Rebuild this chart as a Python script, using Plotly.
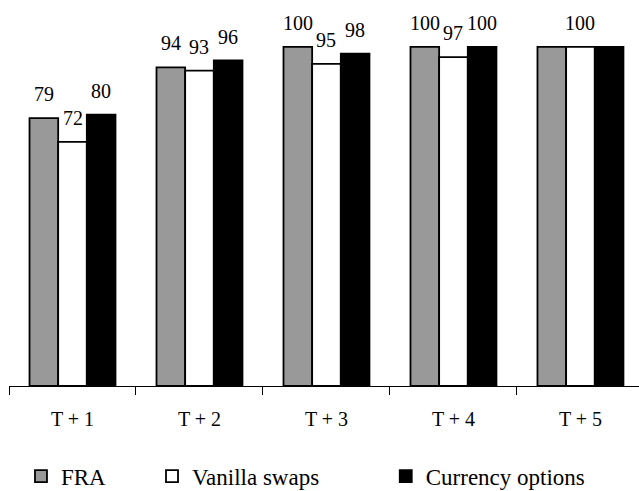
import plotly.graph_objects as go

categories = ["T + 1", "T + 2", "T + 3", "T + 4", "T + 5"]
fra = [79, 94, 100, 100, 100]
vanilla = [72, 93, 95, 97, 100]
currency = [80, 96, 98, 100, 100]
# which value labels are printed in the reference
fra_show = [True, True, True, True, False]
vanilla_show = [True, True, True, True, True]
currency_show = [True, True, True, True, False]

series = [
    ("FRA", fra, fra_show, "#999999", "legend", -28.7),
    ("Vanilla swaps", vanilla, vanilla_show, "#ffffff", "legend2", 0.0),
    ("Currency options", currency, currency_show, "#000000", "legend3", 28.7),
]

FONT = "Liberation Serif"

fig = go.Figure()
for name, vals, show, color, leg, _ in series:
    fig.add_trace(go.Bar(
        x=categories, y=vals, name=name,
        marker=dict(color=color, line=dict(color="#000000", width=1.8)),
        legend=leg,
    ))

annotations = []
for name, vals, show, color, leg, dx in series:
    for c, v, s in zip(categories, vals, show):
        if s:
            annotations.append(dict(
                x=c, y=v, xref="x", yref="y", text=str(v), showarrow=False,
                xshift=dx, yshift=11, yanchor="bottom", xanchor="center",
                font=dict(family=FONT, size=20, color="#000000"),
            ))

leg_common = dict(orientation="h", yanchor="middle", y=-0.24, xanchor="left",
                   font=dict(family=FONT, size=23, color="#000000"),
                   bgcolor="rgba(0,0,0,0)", borderwidth=0, itemwidth=30)

fig.update_layout(
    width=639, height=491,
    margin=dict(l=9, r=0, t=10, b=105, autoexpand=False),
    paper_bgcolor="white", plot_bgcolor="white",
    barmode="group", bargap=0.323, bargroupgap=0,
    font=dict(family=FONT, size=20, color="#000000"),
    xaxis=dict(
        range=[-0.5, 4.461], showgrid=False, zeroline=False,
        showline=True, linecolor="#000000", linewidth=1.2,
        ticks="outside", tickson="boundaries", ticklen=8, tickwidth=1.2,
        tickcolor="#000000", ticklabelstandoff=15,
        tickfont=dict(family=FONT, size=20, color="#000000"),
    ),
    yaxis=dict(range=[0, 110.9], visible=False, showgrid=False, zeroline=False),
    annotations=annotations,
    showlegend=True,
    legend=dict(x=0.019, **leg_common),
    legend2=dict(x=0.227, **leg_common),
    legend3=dict(x=0.598, **leg_common),
)

fig.write_html("out.html", config={"displayModeBar": False})

# remove the browser's default 8px body margin so the figure sits at (0, 0)
with open("out.html", "r", encoding="utf-8") as fh:
    html = fh.read()
html = html.replace("<head>", "<head><style>html,body{margin:0;padding:0;}</style>", 1)
with open("out.html", "w", encoding="utf-8") as fh:
    fh.write(html)
